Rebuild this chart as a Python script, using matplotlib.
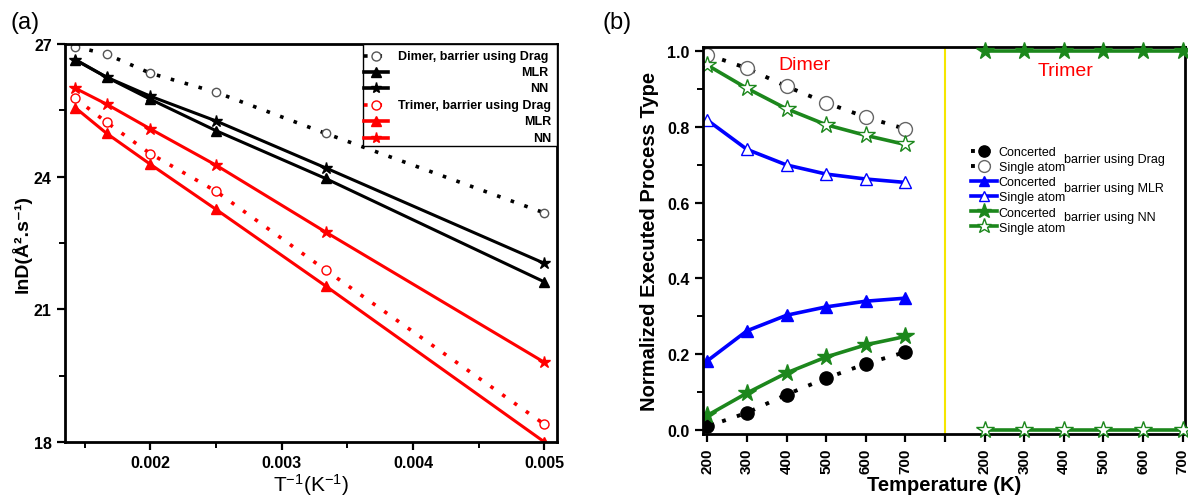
import numpy as np
import matplotlib
matplotlib.use("Agg")
import matplotlib.pyplot as plt
from matplotlib.ticker import MultipleLocator

plt.rcParams['font.family'] = ['Liberation Sans', 'DejaVu Sans']
plt.rcParams['mathtext.default'] = 'regular'

# ---- (a) Arrhenius plot ----
inv_T = [1 / 700, 1 / 600, 1 / 500, 1 / 400, 1 / 300, 1 / 200]
dimer_drag = [26.94, 26.77, 26.34, 25.91, 24.98, 23.18]
dimer_mlr = [26.64, 26.25, 25.75, 25.04, 23.96, 21.62]
dimer_nn = [26.65, 26.25, 25.82, 25.26, 24.20, 22.04]
trimer_drag = [25.77, 25.23, 24.52, 23.67, 21.89, 18.40]
trimer_mlr = [25.56, 24.98, 24.28, 23.26, 21.53, 18.00]
trimer_nn = [26.00, 25.64, 25.08, 24.26, 22.75, 19.80]

# ---- (b) executed process fractions ----
temps = [200, 300, 400, 500, 600, 700]
drag_conc = [0.010, 0.046, 0.094, 0.137, 0.175, 0.206]
drag_single = [0.990, 0.954, 0.906, 0.863, 0.825, 0.794]
mlr_conc = [0.183, 0.262, 0.303, 0.325, 0.340, 0.348]
mlr_single = [0.817, 0.740, 0.699, 0.675, 0.662, 0.653]
nn_conc = [0.039, 0.098, 0.151, 0.193, 0.225, 0.247]
nn_single = [0.962, 0.901, 0.847, 0.805, 0.777, 0.753]
trimer_conc = [1.0, 1.0, 1.0, 1.0, 1.0, 1.0]
trimer_single = [0.0, 0.0, 0.0, 0.0, 0.0, 0.0]

GREEN = '#1c871c'
DOT = (0, (1, 3))

fig = plt.figure(figsize=(11.88, 5.02), dpi=100)
ax1 = fig.add_axes([0.0547, 0.1175, 0.4141, 0.7928])
ax2 = fig.add_axes([0.5918, 0.1335, 0.4057, 0.7709])

# panel (a)
ax1.plot(inv_T, dimer_drag, color='black', ls=DOT, lw=2.6, marker='o', ms=6,
         mfc='white', mec='#555555', mew=1)
ax1.plot(inv_T, dimer_mlr, color='black', lw=2.2, marker='^', ms=7)
ax1.plot(inv_T, dimer_nn, color='black', lw=2.2, marker='*', ms=9)
ax1.plot(inv_T, trimer_drag, color='red', ls=DOT, lw=2.6, marker='o', ms=6.5,
         mfc='white', mec='red', mew=1)
ax1.plot(inv_T, trimer_mlr, color='red', lw=2.2, marker='^', ms=7)
ax1.plot(inv_T, trimer_nn, color='red', lw=2.2, marker='*', ms=9)

ax1.set_xlim(0.00135, 0.005095)
ax1.set_ylim(18, 27)
ax1.set_xticks([0.002, 0.003, 0.004, 0.005])
ax1.set_xticklabels(['0.002', '0.003', '0.004', '0.005'])
ax1.xaxis.set_minor_locator(MultipleLocator(0.0005))
ax1.set_yticks([18, 21, 24, 27])
ax1.yaxis.set_minor_locator(MultipleLocator(1.5))
ax1.set_xlabel('T$^{-1}$(K$^{-1}$)', fontsize=15, labelpad=1)
ax1.set_ylabel('lnD(Å².s⁻¹)', fontsize=14, fontweight='bold', labelpad=2)

# legend box for panel (a)
leg_rows = [0.971, 0.930, 0.889, 0.847, 0.806, 0.765]
leg_items = [
    ('black', DOT, 'o', 'white', '#555555', 'Dimer, barrier using Drag'),
    ('black', '-', '^', 'black', 'black', 'MLR'),
    ('black', '-', '*', 'black', 'black', 'NN'),
    ('red', DOT, 'o', 'white', 'red', 'Trimer, barrier using Drag'),
    ('red', '-', '^', 'red', 'red', 'MLR'),
    ('red', '-', '*', 'red', 'red', 'NN'),
]
ax1.add_patch(plt.Rectangle((0.605, 0.745), 0.395, 0.255, transform=ax1.transAxes,
                            fill=False, ec='black', lw=1, zorder=4))
ax1.add_patch(plt.Rectangle((0.605, 0.745), 0.395, 0.255, transform=ax1.transAxes,
                            fc='white', ec='none', zorder=3.5))
for yy, (c, ls, mk, mfc, mec, lab) in zip(leg_rows, leg_items):
    ax1.plot([0.607, 0.632, 0.657], [yy, yy, yy], transform=ax1.transAxes,
             color=c, ls=ls, lw=2.6, marker=mk, markevery=[1],
             ms=8 if mk == '*' else 6.5, mfc=mfc, mec=mec, mew=1, zorder=5)
    xr = 0.988 if c == 'red' else 0.982
    ax1.text(xr, yy, lab, transform=ax1.transAxes, ha='right', va='center',
             fontsize=9, fontweight='bold', zorder=5)

# panel (b)
xd = np.arange(len(temps))
xt = np.arange(len(temps)) + len(temps) + 1
sep = len(temps)

ax2.axvline(sep, color='#f5e600', lw=1.5, zorder=1)
ax2.plot(xd, drag_conc, color='black', ls=DOT, lw=2.8, marker='o', ms=9.5,
         mfc='black', mec='black', label='Concerted')
ax2.plot(xd, drag_single, color='black', ls=DOT, lw=2.8, marker='o', ms=10,
         mfc='white', mec='#666666', mew=1, label='Single atom')
ax2.plot(xd, mlr_conc, color='blue', lw=2.6, marker='^', ms=8, label='Concerted')
ax2.plot(xd, mlr_single, color='blue', lw=2.6, marker='^', ms=8,
         mfc='white', mec='blue', mew=1, label='Single atom')
ax2.plot(xd, nn_conc, color=GREEN, lw=2.6, marker='*', ms=13, label='Concerted')
ax2.plot(xd, nn_single, color=GREEN, lw=2.6, marker='*', ms=13,
         mfc='white', mec=GREEN, mew=1, label='Single atom')
ax2.plot(xt, trimer_conc, color=GREEN, lw=2.6, marker='*', ms=13, clip_on=False, zorder=3)
ax2.plot(xt, trimer_single, color=GREEN, lw=2.6, marker='*', ms=13,
         mfc='white', mec=GREEN, mew=1, clip_on=False, zorder=3)

ax2.set_xlim(-0.11, 12.06)
ax2.set_ylim(-0.01, 1.01)
ax2.set_xticks(list(xd) + [sep] + list(xt))
ax2.set_xticklabels([str(t) for t in temps] + [''] + [str(t) for t in temps],
                    rotation=90)
ax2.set_yticks([0.0, 0.2, 0.4, 0.6, 0.8, 1.0])
ax2.yaxis.set_minor_locator(MultipleLocator(0.1))
ax2.set_xlabel('Temperature (K)', fontsize=14.5, fontweight='bold', labelpad=2)
ax2.set_ylabel('Normalized Executed Process Type', fontsize=14.5,
               fontweight='bold', labelpad=6)

ax2.text(2.45, 0.965, 'Dimer', color='red', fontsize=14, ha='center', va='center')
ax2.text(9.05, 0.947, 'Trimer', color='red', fontsize=14, ha='center', va='center')

leg = ax2.legend(loc='upper left', bbox_to_anchor=(0.555, 0.744), frameon=False,
                 fontsize=9, handlelength=2.1, handletextpad=0.15,
                 labelspacing=0.25, borderpad=0, borderaxespad=0, markerscale=0.85)
for yy, lab in zip([0.716, 0.639, 0.563],
                   ['barrier using Drag', 'barrier using MLR', 'barrier using NN']):
    ax2.text(9.0, yy, lab, fontsize=9, ha='left', va='center')

for ax in (ax1, ax2):
    for s in ax.spines.values():
        s.set_linewidth(2)
    ax.tick_params(which='major', direction='out', length=6, width=1.6,
                   labelsize=11.5)
    ax.tick_params(which='minor', direction='out', length=4, width=1.4)
    for lab in ax.get_xticklabels() + ax.get_yticklabels():
        lab.set_fontweight('bold')
ax2.tick_params(axis='x', which='major', labelsize=11)

fig.text(0.021, 0.955, '(a)', fontsize=17, ha='center', va='center')
fig.text(0.519, 0.955, '(b)', fontsize=17, ha='center', va='center')

fig.savefig('out.png', dpi=100)
